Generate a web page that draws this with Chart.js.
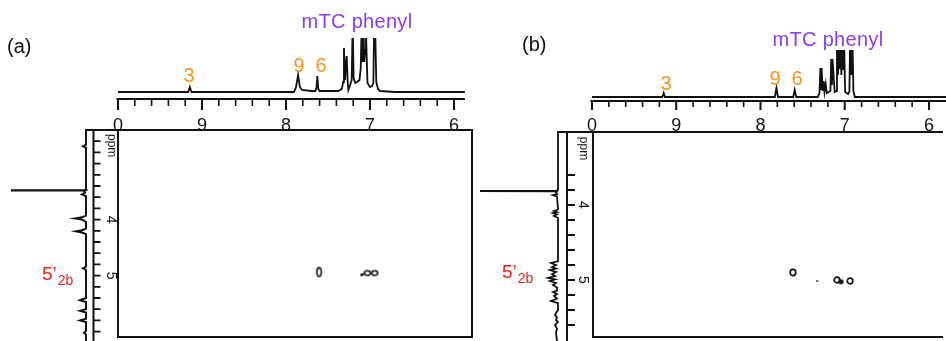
<!DOCTYPE html>
<html>
<head>
<meta charset="utf-8">
<script src="https://cdn.jsdelivr.net/npm/chart.js@4.4.1/dist/chart.umd.min.js"></script>
<style>
body { margin: 0; background: #fff; }
#wrap { position: relative; width: 946px; height: 341px; overflow: hidden; font-family: Arial, "Liberation Sans", sans-serif; }
canvas { position: absolute; left: 0; top: 0; }
.lbl { position: absolute; white-space: nowrap; line-height: 1; }
.c { transform: translateX(-50%); }
.org { color: #f7941d; font-size: 20px; }
.pur { color: #8c3cf0; font-size: 20px; letter-spacing: 0.3px; }
.red { color: #f01e1e; font-size: 19px; }
.red span { font-size: 14px; position: relative; top: 5px; left: 1px; }
</style>
</head>
<body>
<div id="wrap">
  <canvas id="topA" width="946" height="341"></canvas>
  <canvas id="sideA" width="946" height="341"></canvas>
  <canvas id="mapA" width="946" height="341"></canvas>
  <canvas id="topB" width="946" height="341"></canvas>
  <canvas id="sideB" width="946" height="341"></canvas>
  <canvas id="mapB" width="946" height="341"></canvas>

  <div class="lbl" style="left:7px;top:36px;font-size:20px;color:#111">(a)</div>
  <div class="lbl c pur" style="left:357px;top:11px">mTC phenyl</div>
  <div class="lbl c org" style="left:189px;top:65px">3</div>
  <div class="lbl c org" style="left:299px;top:55px">9</div>
  <div class="lbl c org" style="left:321px;top:55px">6</div>
  <div class="lbl red" style="left:42px;top:264px">5’<span>2b</span></div>

  <div class="lbl" style="left:522px;top:34px;font-size:20px;color:#111">(b)</div>
  <div class="lbl c pur" style="left:828px;top:29px">mTC phenyl</div>
  <div class="lbl c org" style="left:666px;top:73px">3</div>
  <div class="lbl c org" style="left:775px;top:68px">9</div>
  <div class="lbl c org" style="left:797px;top:68px">6</div>
  <div class="lbl red" style="left:502px;top:262px">5’<span>2b</span></div>
</div>
<script>
// (a) 1H trace on top: chemical shift (ppm) and height
const topA_ppm = [10.00, 9.165, 9.145, 9.125, 7.905, 7.880, 7.856, 7.835, 7.810, 7.700,
                  7.650, 7.638, 7.627, 7.615, 7.600, 7.480, 7.380, 7.335, 7.320, 7.310,
                  7.298, 7.287, 7.277, 7.267, 7.258, 7.240, 7.218, 7.206, 7.195, 7.175,
                  7.155, 7.125, 7.110, 7.099, 7.089, 7.079, 7.068, 7.058, 7.048, 7.030,
                  7.000, 6.975, 6.960, 6.950, 6.940, 6.925, 6.905, 6.880, 6.700, 5.870];
const topA_int = [0, 0, 5, 0, 0, 5, 17, 5, 2, 1,
                  1, 4, 16, 3, 1, 1, 1, 3, 10, 44,
                  12, 28, 36, 12, 2, 6, 12, 70, 14, 9,
                  10, 12, 24, 70, 30, 70, 30, 42, 60, 9,
                  5, 6, 9, 70, 70, 10, 3, 1, 0, 0];

// (b) 1H trace on top
const topB_ppm = [10.00, 9.165, 9.149, 9.133, 7.830, 7.811, 7.792, 7.612, 7.594, 7.576,
                  7.320, 7.300, 7.289, 7.281, 7.274, 7.262, 7.250, 7.240, 7.226, 7.212,
                  7.190, 7.170, 7.160, 7.152, 7.145, 7.120, 7.102, 7.092, 7.080, 7.068,
                  7.060, 7.052, 7.040, 7.028, 7.018, 7.009, 6.995, 6.960, 6.945, 6.935,
                  6.922, 6.909, 6.897, 6.880, 5.790];
const topB_int = [0, 0, 4, 0, 0, 9, 0, 0, 7, 0,
                  0, 4, 29, 8, 29, 6, 16, 5, 13, 4,
                  5, 6, 38, 12, 38, 5, 6, 60, 22, 60,
                  28, 60, 22, 60, 28, 60, 5, 3, 5, 60,
                  22, 60, 6, 0, 0];

// side traces (F1), ppm going down the page
const sideA_ppm = [2.40, 2.66, 2.69, 2.72, 3.45, 3.47, 3.478, 3.482, 3.49, 3.52,
                   3.55, 3.58, 3.93, 3.96, 3.98, 4.00, 4.04, 4.16, 4.19, 4.21,
                   4.23, 4.26, 4.84, 4.87, 4.90, 5.40, 5.44, 5.47, 5.60, 5.63,
                   5.66, 5.77, 5.80, 5.83, 5.99, 6.02, 6.05, 6.17];
const sideA_int = [0, 0, 3, 0, 0, 1, 100, 1, 2, 1,
                   4, 0, 0, 4, 11, 4, 0, 0, 4, 10,
                   4, 0, 0, 3, 0, 0, 6, 0, 0, 6,
                   0, 0, 6, 0, 0, 2, 0, 0];
const sideB_ppm = [3.027, 3.790, 3.808, 3.813, 3.818, 3.835, 3.855, 3.868, 3.885, 4.060,
                   4.080, 4.094, 4.107, 4.125, 4.147, 4.170, 4.750, 4.773, 4.800, 4.827,
                   4.847, 4.867, 4.893, 4.920, 4.947, 4.973, 4.993, 5.013, 5.040, 5.067,
                   5.100, 5.140, 5.160, 5.187, 5.213, 5.250, 5.280, 5.310, 5.400, 5.440,
                   5.467, 5.500, 5.533, 5.560, 5.600, 5.650, 5.700, 5.813];
const sideB_int = [0, 0, 1, 100, 1, 2, 1, 5, 1, 0,
                   4, 1, 5, 1, 4, 0, 0, 7, 2, 6,
                   2, 8, 2, 6, 3, 10, 3, 8, 2, 5,
                   1, 1, 5, 1, 4, 1, 7, 0, 0, 2,
                   3, 1, 2, 0, 3, 1, 2, 1];

// 2D cross peaks (F2 ppm, F1 ppm)
const cA6_x = [7.607], cA6_y = [4.95];
const cAph_x = [7.030, 6.945], cAph_y = [4.965, 4.965];
const cAdot_x = [7.100, 7.086], cAdot_y = [5.000, 4.990];
const cB6_x = [7.588], cB6_y = [4.900];
const cBph_x = [7.060, 6.902], cBph_y = [5.000, 5.013];
const cBblob_x = [7.010], cBblob_y = [5.025];
const cBdot_x = [7.297], cBdot_y = [5.013];

// axis labels
const topTickValues = [10, 9, 8, 7, 6];
const topTickLabels = ['0', '9', '8', '7', '6'];
const sideTickValues = [4, 5];
const sideTickLabels = ['4', '5'];

const W = 946, H = 341;
const ink = '#111';
const FONT = 'Arial, "Liberation Sans", sans-serif';

function steps(a, b, d, skipInt) {
  const out = [];
  const n = Math.round(Math.abs(b - a) / d);
  for (let i = 0; i <= n; i++) {
    const v = Math.round((a + Math.sign(b - a) * i * d) * 100) / 100;
    if (skipInt && Math.abs(v - Math.round(v)) < 1e-6) continue;
    out.push(v);
  }
  return out;
}

function pts(xs, ys) { return xs.map((x, i) => ({ x: x, y: ys[i] })); }

function ring(rx, ry, lw, fill) {
  const c = document.createElement('canvas');
  c.width = Math.ceil(2 * rx + lw + 2);
  c.height = Math.ceil(2 * ry + lw + 2);
  const g = c.getContext('2d');
  g.lineWidth = lw;
  g.strokeStyle = ink;
  g.fillStyle = ink;
  g.beginPath();
  g.ellipse(c.width / 2, c.height / 2, rx, ry, 0, 0, Math.PI * 2);
  if (fill) g.fill(); else g.stroke();
  return c;
}

// ruler: tick scale drawn off the chart's own scale
const ruler = {
  id: 'ruler',
  afterDraw(chart, args, o) {
    if (!o || !o.axis) return;
    const ctx = chart.ctx, a = chart.chartArea, sc = chart.scales[o.axis];
    ctx.save();
    ctx.strokeStyle = ink;
    ctx.fillStyle = ink;
    if (o.axis === 'x') {
      ctx.lineWidth = 2;
      ctx.beginPath();
      ctx.moveTo(a.left - 1.5, o.at);
      ctx.lineTo(a.right, o.at);
      o.major.forEach(v => {
        const p = sc.getPixelForValue(v);
        ctx.moveTo(p, o.at);
        ctx.lineTo(p, o.at + o.majorLen);
      });
      ctx.stroke();
      ctx.lineWidth = 1.6;
      ctx.beginPath();
      o.minor.forEach(v => {
        const p = sc.getPixelForValue(v);
        ctx.moveTo(p, o.at);
        ctx.lineTo(p, o.at + o.minorLen);
      });
      ctx.stroke();
      ctx.font = o.size + 'px ' + FONT;
      ctx.textAlign = 'center';
      ctx.textBaseline = 'alphabetic';
      o.major.forEach((v, i) => ctx.fillText(o.labels[i], sc.getPixelForValue(v), o.labelAt));
    } else {
      ctx.lineWidth = 2;
      ctx.beginPath();
      ctx.moveTo(o.at, a.top - 1);
      ctx.lineTo(o.at, a.bottom);
      ctx.stroke();
      ctx.lineWidth = 1.8;
      ctx.beginPath();
      o.minor.forEach(v => {
        const p = sc.getPixelForValue(v);
        ctx.moveTo(o.at, p);
        ctx.lineTo(o.at + o.minorLen, p);
      });
      ctx.stroke();
      const put = (txt, v, size) => {
        ctx.save();
        ctx.translate(o.labelAt, sc.getPixelForValue(v));
        ctx.rotate(Math.PI / 2);
        ctx.font = size + 'px ' + FONT;
        ctx.textAlign = 'center';
        ctx.textBaseline = 'middle';
        ctx.fillText(txt, 0, 0);
        ctx.restore();
      };
      o.major.forEach((v, i) => put(o.labels[i], v, o.size));
      put(o.title, o.titleAt, o.titleSize);
    }
    ctx.restore();
  }
};

// frame round the 2D map plus the joint to the side trace
const frame = {
  id: 'frame',
  afterDraw(chart, args, o) {
    if (!o || o.joinFrom === undefined) return;
    const ctx = chart.ctx, a = chart.chartArea;
    ctx.save();
    ctx.strokeStyle = ink;
    ctx.lineWidth = 2;
    ctx.beginPath();
    ctx.moveTo(o.joinFrom - 1, a.top);
    ctx.lineTo(a.right + 1, a.top);
    ctx.moveTo(a.left, a.top);
    ctx.lineTo(a.left, a.bottom);
    ctx.lineTo(a.right + 1, a.bottom);
    if (!o.open) {
      ctx.moveTo(a.right, a.top);
      ctx.lineTo(a.right, a.bottom);
    }
    ctx.stroke();
    ctx.restore();
  }
};

function opts(area, xs, ys, extra) {
  return {
    responsive: false,
    animation: false,
    events: [],
    layout: { padding: { left: area[0], top: area[1], right: W - area[2], bottom: H - area[3] } },
    scales: {
      x: Object.assign({ type: 'linear', display: false, bounds: 'data' }, xs),
      y: Object.assign({ type: 'linear', display: false, bounds: 'data' }, ys)
    },
    plugins: Object.assign({ legend: { display: false }, tooltip: { enabled: false } }, extra)
  };
}

function trace(data, clip, w) {
  return { data: data, showLine: true, borderColor: ink, borderWidth: w || 1.8,
           pointRadius: 0, tension: 0, clip: clip };
}

function marks(xs, ys, style, r) {
  return { data: pts(xs, ys), showLine: false, pointStyle: style,
           pointRadius: r || 4, backgroundColor: ink, borderColor: ink, borderWidth: 0 };
}

// ---------- panel (a) ----------
new Chart(document.getElementById('topA'), {
  type: 'scatter',
  data: { datasets: [trace(pts(topA_ppm, topA_int), { left: 2, right: 2, top: 0, bottom: 2 })] },
  options: opts([118, 38, 465, 92], { min: 5.869, max: 10, reverse: true }, { min: 0, max: 54 }, {
    ruler: { axis: 'x', at: 99, major: topTickValues, labels: topTickLabels,
             minor: steps(10, 5.95, 0.2, true), majorLen: 11, minorLen: 7, size: 18, labelAt: 131 }
  }),
  plugins: [ruler]
});

new Chart(document.getElementById('sideA'), {
  type: 'scatter',
  data: { datasets: [trace(pts(sideA_int, sideA_ppm), { left: 0, right: 2, top: 1, bottom: 2 }, 2)] },
  options: opts([11, 130, 86, 341], { min: 0, max: 75, reverse: true }, { min: 2.40, max: 6.168, reverse: true }, {
    ruler: { axis: 'y', at: 93.5, major: sideTickValues, labels: sideTickLabels,
             minor: steps(2.6, 6.0, 0.2, false), minorLen: 7, size: 14, labelAt: 111,
             title: 'ppm', titleAt: 2.68, titleSize: 12 }
  }),
  plugins: [ruler]
});

new Chart(document.getElementById('mapA'), {
  type: 'scatter',
  data: { datasets: [
    marks(cA6_x, cA6_y, ring(2.2, 4.3, 1.7)),
    marks(cAph_x, cAph_y, ring(3, 2.3, 1.6)),
    marks(cAdot_x, cAdot_y, ring(1.4, 1.2, 0, true))
  ] },
  options: opts([118, 130, 472, 338], { min: 5.786, max: 10, reverse: true }, { min: 2.40, max: 6.114, reverse: true }, {
    frame: { joinFrom: 86 }
  }),
  plugins: [frame]
});

// ---------- panel (b) ----------
new Chart(document.getElementById('topB'), {
  type: 'scatter',
  data: { datasets: [trace(pts(topB_ppm, topB_int), { left: 2, right: 2, top: 0, bottom: 2 })] },
  options: opts([592, 50, 946, 97], { min: 5.798, max: 10, reverse: true }, { min: 0, max: 47 }, {
    ruler: { axis: 'x', at: 101, major: topTickValues, labels: topTickLabels,
             minor: steps(10, 5.95, 0.2, true), majorLen: 9, minorLen: 6, size: 18, labelAt: 131 }
  }),
  plugins: [ruler]
});

new Chart(document.getElementById('sideB'), {
  type: 'scatter',
  data: { datasets: [trace(pts(sideB_int, sideB_ppm), { left: 0, right: 2, top: 1, bottom: 2 })] },
  options: opts([480, 132, 558, 341], { min: 0, max: 78, reverse: true }, { min: 3.027, max: 5.813, reverse: true }, {
    ruler: { axis: 'y', at: 567, major: sideTickValues, labels: sideTickLabels,
             minor: steps(3.6, 5.6, 0.2, false), minorLen: 8, size: 14, labelAt: 583,
             title: 'ppm', titleAt: 3.247, titleSize: 12 }
  }),
  plugins: [ruler]
});

new Chart(document.getElementById('mapB'), {
  type: 'scatter',
  data: { datasets: [
    marks(cB6_x, cB6_y, ring(2.8, 3.2, 1.7)),
    marks(cBph_x, cBph_y, ring(2.8, 2.8, 1.7)),
    marks(cBblob_x, cBblob_y, ring(2.6, 2.4, 0, true)),
    marks(cBdot_x, cBdot_y, ring(0.9, 0.9, 0, true))
  ] },
  options: opts([593, 132, 946, 337], { min: 5.798, max: 9.988, reverse: true }, { min: 3.027, max: 5.76, reverse: true }, {
    frame: { joinFrom: 558, open: true }
  }),
  plugins: [frame]
});
</script>
</body>
</html>
